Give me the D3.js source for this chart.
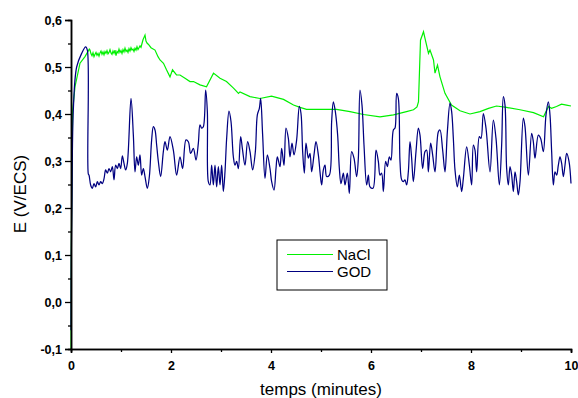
<!DOCTYPE html>
<html><head><meta charset="utf-8">
<script src="https://cdnjs.cloudflare.com/ajax/libs/d3/7.8.5/d3.min.js"></script>
<style>body{margin:0;background:#fff}svg{display:block}</style>
</head><body>
<svg id="c" width="578" height="398"></svg>
<script>
const xTicks = [0,2,4,6,8,10];
const xTickLabels = ["0","2","4","6","8","10"];
const yTicks = [-0.1,0,0.1,0.2,0.3,0.4,0.5,0.6];
const yTickLabels = ["-0,1","0,0","0,1","0,2","0,3","0,4","0,5","0,6"];
const seriesNames = ["NaCl","GOD"];
const seriesColors = ["#00f000","#000080"];

const naclT = [0,0.005,0.02,0.034,0.08,0.18,0.28,0.366,
0.38,0.40,0.42,0.44,0.46,0.48,0.50,0.52,0.54,0.56,0.58,0.60,0.62,0.64,0.66,0.68,0.70,0.72,0.74,0.76,0.78,0.80,
0.82,0.84,0.86,0.88,0.90,0.92,0.94,0.96,0.98,1.00,1.02,1.04,1.06,1.08,1.10,1.12,1.14,1.16,1.18,1.20,1.22,1.24,
1.26,1.28,1.30,1.32,1.34,1.36,1.38,1.40,1.42,1.44,1.46,1.48,1.50,1.52,1.55,1.60,1.68,1.74,1.78,1.85,1.91,1.98,
2.03,2.11,2.18,2.28,2.38,2.45,2.58,2.71,2.85,2.98,3.11,3.25,3.35,3.38,3.58,3.78,4.01,4.25,4.45,4.58,4.71,4.98,
5.31,5.58,5.85,6.18,6.45,6.71,6.85,6.92,6.95,6.99,7.05,7.08,7.15,7.18,7.25,7.28,7.33,7.38,7.48,7.61,7.78,7.98,
8.18,8.35,8.51,8.71,8.98,9.25,9.45,9.55,9.61,9.71,9.81,9.91,10.0];
const naclV = [-0.1,0.1,0.3,0.408,0.458,0.508,0.522,0.538,
0.536,0.528,0.524,0.530,0.522,0.527,0.531,0.525,0.529,0.523,0.530,0.534,0.527,0.532,0.526,0.533,0.529,0.535,0.528,0.531,0.537,0.530,
0.527,0.534,0.529,0.536,0.524,0.533,0.530,0.538,0.531,0.535,0.529,0.537,0.532,0.540,0.533,0.536,0.531,0.539,0.534,0.541,0.536,0.538,
0.533,0.540,0.536,0.543,0.537,0.541,0.545,0.542,0.550,0.558,0.563,0.568,0.555,0.551,0.548,0.541,0.536,0.522,0.515,0.508,0.494,0.479,
0.494,0.483,0.483,0.476,0.469,0.469,0.462,0.458,0.487,0.476,0.469,0.455,0.444,0.447,0.437,0.433,0.438,0.431,0.419,0.414,0.410,0.410,
0.410,0.405,0.399,0.394,0.398,0.405,0.409,0.415,0.426,0.557,0.575,0.561,0.529,0.536,0.515,0.487,0.504,0.479,0.444,0.419,0.407,0.400,
0.405,0.412,0.417,0.414,0.409,0.403,0.394,0.416,0.412,0.416,0.421,0.419,0.417];

const godT = [0,0.006,0.02,0.046,0.113,0.213,0.293,0.327,
0.347,0.36,0.393,0.427,0.46,0.493,0.527,0.56,0.593,0.627,0.66,0.693,0.727,0.76,0.793,0.827,0.86,0.893,0.927,0.96,0.993,
1.027,1.06,1.093,1.127,1.20,1.247,1.28,1.313,1.347,1.38,1.413,1.447,1.48,1.527,1.567,1.613,1.647,1.68,1.713,1.747,1.793,
1.847,1.88,1.927,1.98,2.047,2.113,2.18,2.233,2.30,2.347,2.393,2.447,2.50,2.547,2.58,2.613,2.647,2.693,2.727,2.747,2.78,
2.813,2.847,2.88,2.913,2.947,2.98,3.013,3.047,3.08,3.113,3.16,3.20,3.247,3.28,3.313,3.347,3.393,3.427,3.48,3.533,3.58,
3.633,3.687,3.727,3.767,3.793,3.833,3.88,3.927,3.98,4.013,4.06,4.10,4.127,4.18,4.213,4.26,4.30,4.347,4.38,4.42,4.46,
4.513,4.567,4.60,4.633,4.667,4.70,4.747,4.78,4.813,4.86,4.90,4.947,4.98,5.013,5.047,5.08,5.113,5.167,5.213,5.247,5.287,
5.333,5.367,5.40,5.447,5.48,5.527,5.567,5.613,5.66,5.713,5.747,5.78,5.82,5.86,5.913,5.947,5.98,6.04,6.10,6.147,6.18,
6.213,6.247,6.293,6.327,6.367,6.40,6.447,6.48,6.513,6.547,6.58,6.613,6.647,6.68,6.713,6.747,6.78,6.813,6.847,6.90,6.947,
6.98,7.033,7.08,7.113,7.147,7.193,7.233,7.28,7.347,7.38,7.433,7.48,7.527,7.58,7.613,7.647,7.68,7.727,7.767,7.813,7.847,
7.913,7.967,8.013,8.047,8.08,8.113,8.167,8.20,8.247,8.30,8.38,8.447,8.50,8.567,8.613,8.647,8.68,8.713,8.747,8.78,8.813,
8.847,8.88,8.913,8.947,8.98,9.047,9.08,9.147,9.213,9.247,9.28,9.347,9.393,9.447,9.50,9.547,9.58,9.613,9.647,9.68,9.713,
9.747,9.78,9.813,9.847,9.88,9.913,9.96,10.0];
const godV = [-0.06,0.1,0.217,0.408,0.50,0.529,0.543,0.536,
0.272,0.270,0.249,0.242,0.252,0.245,0.256,0.249,0.256,0.252,0.262,0.281,0.274,0.284,0.277,0.288,0.260,0.291,0.284,0.295,0.284,
0.311,0.295,0.281,0.295,0.433,0.355,0.277,0.309,0.291,0.313,0.270,0.284,0.267,0.242,0.267,0.345,0.373,0.366,0.334,0.299,0.267,
0.320,0.341,0.323,0.352,0.323,0.270,0.309,0.284,0.345,0.341,0.316,0.327,0.302,0.338,0.377,0.370,0.373,0.451,0.405,0.256,0.249,
0.291,0.249,0.291,0.245,0.288,0.249,0.291,0.235,0.277,0.348,0.406,0.384,0.309,0.291,0.299,0.284,0.352,0.327,0.291,0.341,0.320,
0.281,0.320,0.398,0.412,0.433,0.355,0.263,0.313,0.284,0.256,0.238,0.284,0.309,0.288,0.327,0.291,0.370,0.348,0.309,0.338,0.313,
0.345,0.416,0.401,0.320,0.274,0.338,0.306,0.316,0.277,0.313,0.341,0.313,0.277,0.249,0.281,0.291,0.267,0.270,0.384,0.426,0.405,
0.355,0.284,0.252,0.274,0.249,0.274,0.231,0.320,0.306,0.267,0.306,0.451,0.419,0.334,0.249,0.270,0.245,0.242,0.323,0.299,0.270,
0.274,0.235,0.299,0.288,0.309,0.302,0.366,0.370,0.444,0.433,0.299,0.260,0.256,0.260,0.249,0.277,0.341,0.306,0.256,0.320,0.370,
0.355,0.284,0.320,0.323,0.277,0.338,0.313,0.277,0.362,0.366,0.323,0.277,0.362,0.423,0.405,0.348,0.281,0.245,0.270,0.235,0.263,
0.330,0.291,0.249,0.334,0.323,0.277,0.352,0.348,0.401,0.370,0.277,0.387,0.348,0.249,0.334,0.437,0.419,0.284,0.249,0.288,0.270,
0.235,0.277,0.256,0.228,0.256,0.391,0.373,0.270,0.359,0.341,0.306,0.355,0.348,0.320,0.398,0.426,0.398,0.320,0.249,0.277,0.270,
0.291,0.309,0.295,0.267,0.291,0.316,0.299,0.252];

const svg = d3.select("#c");
const x = d3.scaleLinear().domain([0,10]).range([71,571]);
const y = d3.scaleLinear().domain([-0.1,0.6]).range([349,20]);

const plot = svg.append("g");
const nacl = naclT.map((t,i)=>[t,naclV[i]]);
const god = godT.map((t,i)=>[t,godV[i]]);

plot.append("path").datum(nacl)
  .attr("fill","none").attr("stroke",seriesColors[0]).attr("stroke-width",1.2)
  .attr("d", d3.line().x(d=>x(d[0])).y(d=>y(d[1])));
plot.append("path").datum(god)
  .attr("fill","none").attr("stroke",seriesColors[1]).attr("stroke-width",1.25)
  .attr("d", d3.line().curve(d3.curveCatmullRom.alpha(0.5)).x(d=>x(d[0])).y(d=>y(d[1])));

// Y axis
const yMinor = d3.range(-0.05,0.6,0.1);
const yAxis = svg.append("g").attr("transform","translate(71,0)");
yAxis.call(d3.axisLeft(y).tickValues(yMinor).tickSize(3).tickFormat(""));
yAxis.append("g").call(d3.axisLeft(y).tickValues(yTicks).tickSize(6).tickPadding(3)
   .tickFormat((d,i)=>yTickLabels[i]));
yAxis.selectAll(".domain").attr("stroke","#000").attr("stroke-width",1.5);
yAxis.selectAll("line").attr("stroke","#000").attr("stroke-width",1.3);
yAxis.selectAll("text").attr("font-family","Liberation Sans, Arial, sans-serif")
  .attr("font-weight","bold").attr("font-size","12.5px").attr("fill","#000");

// X axis
const xMinor = d3.range(1,10,2);
const xAxis = svg.append("g").attr("transform","translate(0,349)");
xAxis.call(d3.axisBottom(x).tickValues(xMinor).tickSize(3).tickFormat(""));
xAxis.append("g").call(d3.axisBottom(x).tickValues(xTicks).tickSize(4).tickPadding(8)
   .tickFormat((d,i)=>xTickLabels[i]));
xAxis.selectAll(".domain").attr("stroke","#000").attr("stroke-width",1.5);
xAxis.selectAll("line").attr("stroke","#000").attr("stroke-width",1.3);
xAxis.selectAll("text").attr("font-family","Liberation Sans, Arial, sans-serif")
  .attr("font-weight","bold").attr("font-size","12.5px").attr("fill","#000");

// titles
svg.append("text").attr("x",321).attr("y",395).attr("text-anchor","middle")
  .attr("font-family","Liberation Sans, Arial, sans-serif").attr("font-size","17px")
  .text("temps (minutes)");
svg.append("text").attr("transform","translate(26,194) rotate(-90)").attr("text-anchor","middle")
  .attr("font-family","Liberation Sans, Arial, sans-serif").attr("font-size","17px")
  .text("E (V/ECS)");

// legend
const lg = svg.append("g");
lg.append("rect").attr("x",277).attr("y",240).attr("width",110).attr("height",50)
  .attr("fill","#fff").attr("stroke","#000").attr("stroke-width",1);
seriesNames.forEach((n,i)=>{
  const yy = 254.5 + i*17;
  lg.append("line").attr("x1",287).attr("x2",333).attr("y1",yy).attr("y2",yy)
    .attr("stroke",seriesColors[i]).attr("stroke-width",1.2);
  lg.append("text").attr("x",337).attr("y",yy+5.5)
    .attr("font-family","Liberation Sans, Arial, sans-serif").attr("font-size","15px").text(n);
});
</script>
</body></html>
